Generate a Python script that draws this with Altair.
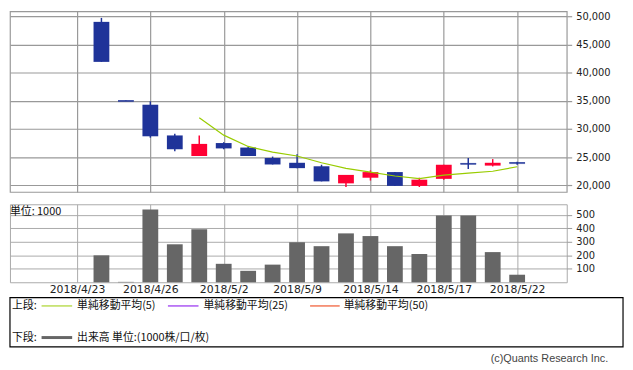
import altair as alt
import pandas as pd

# ---- data ----
DATES = ['4/24', '4/25', '4/26', '4/27', '5/1', '5/2', '5/7', '5/8', '5/9', '5/10',
         '5/11', '5/14', '5/15', '5/16', '5/17', '5/18', '5/21', '5/22']
OPEN = [49000, 35050, 34300, 28850, 25200, 27500, 26700, 24850, 24000, 23380,
        20350, 21350, 22350, 19900, 21150, 23900, 23500, 24050]
HIGH = [49700, 35050, 34900, 29150, 28850, 27650, 26850, 25100, 25500, 23650,
        21850, 22650, 22350, 21350, 23650, 24850, 24650, 24200]
LOW = [41900, 34950, 28450, 26050, 25200, 26400, 25200, 23700, 23050, 20700,
       19700, 20850, 19900, 19700, 21000, 22900, 23350, 23650]
CLOSE = [41900, 34950, 28700, 26400, 27350, 26550, 25200, 23700, 23050, 20700,
         21850, 22350, 19900, 21000, 23650, 23800, 24000, 23950]
VOLUME = [200, 3, 540, 282, 394, 137, 85, 131, 297, 268, 363, 343, 268, 210, 496, 496, 224, 56]
SMA5_DATES = ['5/1', '5/2', '5/7', '5/8', '5/9', '5/10', '5/11', '5/14', '5/15', '5/16',
              '5/17', '5/18', '5/21', '5/22']
SMA5 = [32000, 28900, 26900, 25900, 25200, 24000, 23000, 22350, 21650, 21200,
        21800, 22150, 22500, 23300]
TICK_POS = [0, 3, 6, 9, 12, 15, 18]
TICK_LABELS = ['2018/4/23', '2018/4/26', '2018/5/2', '2018/5/9', '2018/5/14', '2018/5/17', '2018/5/22']
PRICE_TICKS = [20000, 25000, 30000, 35000, 40000, 45000, 50000]
VOL_TICKS = [100, 200, 300, 400, 500]
LEGEND_TOP = '上段:'
LEGEND_BOTTOM = '下段:'
MA_LABELS = ['単純移動平均(5)', '単純移動平均(25)', '単純移動平均(50)']
VOL_LABEL = '出来高 単位:(1000株/口/枚)'
UNIT_LABEL = '単位: 1000'
COPYRIGHT = '(c)Quants Research Inc.'

BLUE = '#1f3399'
RED = '#ff0033'
MA_COLORS = ['#99cc00', '#8000ee', '#ee3300']
JP = 'Noto Sans CJK JP'

ALL_DAYS = ['4/23'] + DATES
df = pd.DataFrame({'date': DATES, 'open': OPEN, 'high': HIGH, 'low': LOW,
                   'close': CLOSE, 'volume': VOLUME})
df['idx'] = [ALL_DAYS.index(d) for d in DATES]
df['dir'] = ['up' if c > o else 'down' for o, c in zip(OPEN, CLOSE)]
sma_df = pd.DataFrame({'date': SMA5_DATES, 'sma': SMA5})
sma_df['idx'] = [ALL_DAYS.index(d) for d in SMA5_DATES]
one = pd.DataFrame({'a': [0]})

x_scale = alt.Scale(domain=[-2.538, 19.826], nice=False, zero=False)
y_up = alt.Scale(domain=[18827, 50876], nice=False, zero=False)
y_low = alt.Scale(domain=[0, 579], nice=False)
color = alt.Color('dir:N', scale=alt.Scale(domain=['up', 'down'], range=[RED, BLUE]), legend=None)
label_expr = '[' + ','.join("'%s'" % t for t in TICK_LABELS) + '][round(datum.value/3)]'

x_axis_up = alt.Axis(values=TICK_POS, labels=False, ticks=False, domain=False,
                     grid=True, gridColor='#999', gridWidth=1.2, minExtent=0, maxExtent=0)
y_axis_up = alt.Axis(orient='right', values=PRICE_TICKS, format=',.0f', domain=False,
                     tickSize=5, tickColor='#999', tickWidth=1.2,
                     grid=True, gridColor='#999', gridWidth=1.2,
                     labelFont='DejaVu Sans', labelFontSize=10, labelColor='#222',
                     labelPadding=4)


def X(field):
    return alt.X(field, scale=x_scale, title=None, axis=x_axis_up)


def Y(field):
    return alt.Y(field, scale=y_up, title=None, axis=y_axis_up)


base = alt.Chart(df)
wick = base.mark_rule(strokeWidth=1.5).encode(
    x=X('idx:Q'), y=Y('low:Q'), y2='high:Q', color=color)
body = base.mark_bar(size=16).encode(
    x=X('idx:Q'), y=Y('open:Q'), y2='close:Q', color=color)
doji = base.transform_filter('abs(datum.open - datum.close) < 200').mark_tick(
    orient='horizontal', size=16, thickness=2).encode(
    x=X('idx:Q'), y=Y('close:Q'), color=color)
sma = alt.Chart(sma_df).mark_line(color=MA_COLORS[0], strokeWidth=1.2).encode(
    x=X('idx:Q'), y=Y('sma:Q'))
upper = alt.layer(wick, body, doji, sma).properties(
    width=564, height=183, view=alt.ViewBackground(stroke='#999', strokeWidth=1.2))

vol = alt.Chart(df).mark_bar(size=16, color='#666666').encode(
    x=alt.X('idx:Q', scale=x_scale, title=None,
            axis=alt.Axis(values=TICK_POS, labelExpr=label_expr, ticks=False, tickSize=0,
                          domain=False, grid=True, gridColor='#aaa', gridWidth=1,
                          labelFont='DejaVu Sans', labelFontSize=11, labelColor='#222',
                          labelPadding=1)),
    y=alt.Y('volume:Q', scale=y_low, title=None,
            axis=alt.Axis(orient='right', values=VOL_TICKS, format='d', domain=False,
                          tickSize=5, tickColor='#999', grid=True, gridColor='#aaa', gridWidth=1,
                          labelFont='DejaVu Sans', labelFontSize=10, labelColor='#222',
                          labelPadding=4)))


def text(x, y, s, font=JP, size=11, col='#111', align='left'):
    return alt.Chart(one).mark_text(text=s, font=font, fontSize=size, color=col,
                                    align=align, baseline='middle').encode(
        x=alt.value(x), y=alt.value(y))


def seg(x1, x2, y, col, w=1):
    return alt.Chart(one).mark_rule(color=col, strokeWidth=w).encode(
        x=alt.value(x1), x2=alt.value(x2), y=alt.value(y))


box = alt.Chart(one).mark_rect(fill='white', fillOpacity=0, stroke='#000', strokeWidth=1.2).encode(
    x=alt.value(0), x2=alt.value(621), y=alt.value(94.5), y2=alt.value(144.5))

legend_layers = [
    box,
    text(0, 7.5, UNIT_LABEL),
    text(2, 103, LEGEND_TOP),
    seg(32, 63, 103, MA_COLORS[0]), text(68, 103, MA_LABELS[0]),
    seg(160, 191, 103, MA_COLORS[1]), text(196, 103, MA_LABELS[1]),
    seg(304, 334, 103, MA_COLORS[2]), text(338, 103, MA_LABELS[2]),
    text(2, 135, LEGEND_BOTTOM),
    seg(32, 63, 135, '#666666', 3), text(68, 135, VOL_LABEL),
    text(606, 156.5, COPYRIGHT, font='Liberation Sans', size=11, col='#444', align='right'),
]

lower = alt.layer(vol, *legend_layers).properties(
    width=564, height=79, view=alt.ViewBackground(stroke='#aaa', strokeWidth=1))

chart = alt.vconcat(upper, lower, spacing=10.5).properties(
    padding={'left': 0, 'top': 0, 'right': 0, 'bottom': 0},
    background='white')

chart.save("out.html", embed_options={"renderer": "svg", "actions": False})
